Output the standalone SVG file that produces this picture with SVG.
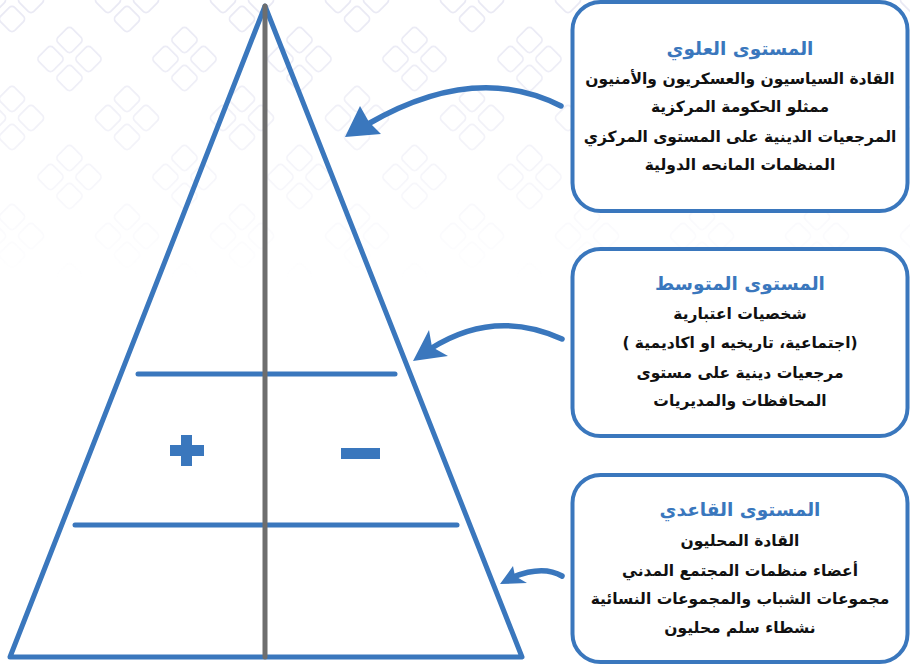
<svg xmlns="http://www.w3.org/2000/svg" width="910" height="667" viewBox="0 0 910 667">
<style>
.box{fill:#fff;stroke:#3a77bd;stroke-width:4}
.tri{fill:none;stroke:#3a77bd;stroke-width:5;stroke-linejoin:round}
.hl{stroke:#3a77bd;stroke-width:5;stroke-linecap:round}
.axis{stroke:#6e6e6e;stroke-width:5;stroke-linecap:round}
.arr{fill:none;stroke:#3a77bd;stroke-width:5.5;stroke-linecap:round}
.head{fill:#3a77bd}
.sym{fill:#3a77bd}
text{font-family:"DejaVu Sans",sans-serif;font-weight:bold;text-anchor:middle;direction:rtl}
.t{fill:#3a77bd;font-size:18.5px}
.b{fill:#111;font-size:15.5px}
.pet{fill:none;stroke:#e9e9f4;stroke-width:1.8}
</style>
<defs>
<g id="fl">
<rect class="pet" x="-10" y="-10" width="20" height="20" rx="4" transform="translate(0,-19) rotate(45)"/>
<rect class="pet" x="-10" y="-10" width="20" height="20" rx="4" transform="translate(0,19) rotate(45)"/>
<rect class="pet" x="-10" y="-10" width="20" height="20" rx="4" transform="translate(-19,0) rotate(45)"/>
<rect class="pet" x="-10" y="-10" width="20" height="20" rx="4" transform="translate(19,0) rotate(45)"/>
</g>
<pattern id="pat" patternUnits="userSpaceOnUse" x="12" y="0" width="115" height="118">
<use href="#fl" x="0" y="0"/><use href="#fl" x="115" y="0"/><use href="#fl" x="0" y="118"/><use href="#fl" x="115" y="118"/><use href="#fl" x="57.5" y="59"/>
</pattern>
<linearGradient id="fade" x1="0" y1="0" x2="0" y2="1">
<stop offset="0" stop-color="#fff" stop-opacity="1"/>
<stop offset="0.45" stop-color="#fff" stop-opacity="0.6"/>
<stop offset="1" stop-color="#fff" stop-opacity="0"/>
</linearGradient>
<mask id="m" maskUnits="userSpaceOnUse" x="0" y="0" width="910" height="280">
<rect x="0" y="0" width="910" height="280" fill="url(#fade)"/>
</mask>
</defs>
<rect width="910" height="667" fill="#fff"/>
<rect x="0" y="0" width="910" height="280" fill="url(#pat)" mask="url(#m)"/>

<g id="pyramid">
<polygon class="tri" points="265,6 522,657 10,657"/>
<line class="hl" x1="138" y1="374" x2="395" y2="374"/>
<line class="hl" x1="75" y1="525" x2="457" y2="525"/>
<line class="axis" x1="265" y1="6" x2="265" y2="657"/>
<path class="sym" d="M181,435h11v10h12v11h-12v10h-11v-10h-11v-11h11z"/>
<rect class="sym" x="341" y="448" width="39" height="11"/>
</g>

<g id="connectors">
<path class="arr" d="M561,106 Q475,62 368,124"/>
<polygon class="head" points="345,137 360,106 369,122 381,134"/>
<path class="arr" d="M562,339 Q494,308 430,349"/>
<polygon class="head" points="413,361 429,330 432,347 448,356"/>
<path class="arr" d="M562,576 Q543,565 513,577"/>
<polygon class="head" points="500,584 513,566 515,576 527,583"/>
</g>

<g id="top-level">
<rect class="box" x="572.5" y="2" width="335" height="209" rx="28"/>
<text class="t" x="740" y="55">المستوى العلوي</text>
<text class="b" x="740" y="84">القادة السياسيون والعسكريون والأمنيون</text>
<text class="b" x="740" y="112">ممثلو الحكومة المركزية</text>
<text class="b" x="740" y="142">المرجعيات الدينية على المستوى المركزي</text>
<text class="b" x="740" y="170">المنظمات المانحه الدولية</text>
</g>

<g id="middle-level">
<rect class="box" x="572.5" y="249" width="335" height="187" rx="28"/>
<text class="t" x="740" y="290">المستوى المتوسط</text>
<text class="b" x="740" y="319">شخصيات اعتبارية</text>
<text class="b" x="740" y="348">(اجتماعية، تاريخيه او اكاديمية )</text>
<text class="b" x="740" y="378">مرجعيات دينية على مستوى</text>
<text class="b" x="740" y="406">المحافظات والمديريات</text>
</g>

<g id="base-level">
<rect class="box" x="572.5" y="475" width="335" height="187" rx="28"/>
<text class="t" x="740" y="516">المستوى القاعدي</text>
<text class="b" x="740" y="546">القادة المحليون</text>
<text class="b" x="740" y="576">أعضاء منظمات المجتمع المدني</text>
<text class="b" x="740" y="604">مجموعات الشباب والمجموعات النسائية</text>
<text class="b" x="740" y="633">نشطاء سلم محليون</text>
</g>
</svg>
